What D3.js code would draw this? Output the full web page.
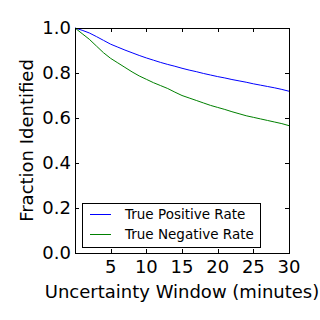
<!DOCTYPE html>
<html>
<head>
<meta charset="utf-8">
<script src="https://cdn.jsdelivr.net/npm/d3@7"></script>
<style>
  body { margin: 0; background: #fff; }
  text { font-family: "DejaVu Sans", sans-serif; fill: #000; }
</style>
</head>
<body>
<div id="chart"></div>
<script>
// minutes of uncertainty window
var minutes = d3.range(0, 31);
var tpr = [1.0, 0.99, 0.978, 0.962, 0.945, 0.928, 0.915, 0.902, 0.89, 0.878, 0.867,
           0.857, 0.847, 0.838, 0.83, 0.821, 0.813, 0.806, 0.798, 0.791, 0.784,
           0.778, 0.771, 0.765, 0.759, 0.752, 0.746, 0.740, 0.734, 0.727, 0.719];
var tnr = [1.0, 0.975, 0.95, 0.92, 0.89, 0.865, 0.845, 0.825, 0.805, 0.787, 0.772,
           0.757, 0.744, 0.731, 0.715, 0.70, 0.689, 0.678, 0.667, 0.656, 0.647,
           0.638, 0.628, 0.619, 0.610, 0.603, 0.596, 0.589, 0.582, 0.575, 0.566];
var xTicks = [5, 10, 15, 20, 25, 30];
var yTicks = [0, 0.2, 0.4, 0.6, 0.8, 1.0];
var seriesNames = ["True Positive Rate", "True Negative Rate"];
var seriesColors = ["#0000ff", "#008000"];

var W = 320, H = 320;
var mLeft = 75, mRight = 289, mTop = 28, mBottom = 253;

var svg = d3.select("#chart").append("svg")
    .attr("width", W)
    .attr("height", H);

var x = d3.scaleLinear().domain([0, 30]).range([mLeft, mRight]);
var y = d3.scaleLinear().domain([0, 1]).range([mBottom, mTop]);

var line = d3.line()
    .x(function (d, i) { return x(minutes[i]); })
    .y(function (d) { return y(d); });

var plot = svg.append("g");
[tpr, tnr].forEach(function (s, k) {
    plot.append("path")
        .attr("d", line(s))
        .attr("fill", "none")
        .attr("stroke", seriesColors[k])
        .attr("stroke-width", 1);
});

// ticks inward on all sides
var tl = 4;
xTicks.forEach(function (t) {
    var px = Math.round(x(t)) + 0.5;
    svg.append("line").attr("x1", px).attr("x2", px).attr("y1", mBottom).attr("y2", mBottom - tl).attr("stroke", "#000");
    svg.append("line").attr("x1", px).attr("x2", px).attr("y1", mTop).attr("y2", mTop + tl).attr("stroke", "#000");
    svg.append("text")
        .attr("x", x(t))
        .attr("y", mBottom + 20)
        .attr("text-anchor", "middle")
        .attr("font-size", "18px")
        .text(t);
});
yTicks.forEach(function (t) {
    var py = Math.round(y(t)) + 0.5;
    svg.append("line").attr("x1", mLeft).attr("x2", mLeft + tl).attr("y1", py).attr("y2", py).attr("stroke", "#000");
    svg.append("line").attr("x1", mRight).attr("x2", mRight - tl).attr("y1", py).attr("y2", py).attr("stroke", "#000");
    svg.append("text")
        .attr("x", mLeft - 4)
        .attr("y", y(t))
        .attr("dy", "0.36em")
        .attr("text-anchor", "end")
        .attr("font-size", "18px")
        .text(d3.format(".1f")(t));
});

svg.append("rect")
    .attr("x", mLeft + 0.5).attr("y", mTop + 0.5)
    .attr("width", mRight - mLeft).attr("height", mBottom - mTop)
    .attr("fill", "none")
    .attr("stroke", "#000");

// axis labels
svg.append("text")
    .attr("x", (mLeft + mRight) / 2)
    .attr("y", 298)
    .attr("text-anchor", "middle")
    .attr("font-size", "18px")
    .text("Uncertainty Window (minutes)");
svg.append("text")
    .attr("transform", "translate(33," + (mTop + mBottom) / 2 + ") rotate(-90)")
    .attr("text-anchor", "middle")
    .attr("font-size", "18px")
    .text("Fraction Identified");

// legend
var lg = svg.append("g");
lg.append("rect")
    .attr("x", 82.5).attr("y", 203.5)
    .attr("width", 178).attr("height", 44)
    .attr("fill", "#fff")
    .attr("stroke", "#000");
seriesNames.forEach(function (n, k) {
    var ly = 214 + k * 20;
    lg.append("line")
        .attr("x1", 90).attr("x2", 111)
        .attr("y1", ly + 0.5).attr("y2", ly + 0.5)
        .attr("stroke", seriesColors[k]);
    lg.append("text")
        .attr("x", 125)
        .attr("y", ly)
        .attr("dy", "0.36em")
        .attr("font-size", "13.5px")
        .text(n);
});
</script>
</body>
</html>
